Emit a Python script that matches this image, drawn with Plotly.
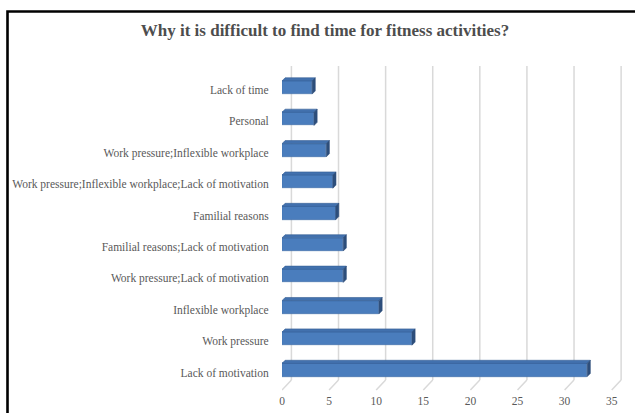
import plotly.graph_objects as go

categories = [
    "Lack of motivation",
    "Work pressure",
    "Inflexible workplace",
    "Work pressure;Lack of motivation",
    "Familial reasons;Lack of motivation",
    "Familial reasons",
    "Work pressure;Inflexible workplace;Lack of motivation",
    "Work pressure;Inflexible workplace",
    "Personal",
    "Lack of time",
]
values = [32.4, 13.8, 10.3, 6.5, 6.5, 5.7, 5.4, 4.7, 3.4, 3.2]
x_ticks = [0, 5, 10, 15, 20, 25, 30, 35]

FRONT = "#4A7DBD"
TOP = "#4271AE"
SIDE = "#2D4E7B"
GRID = "#D9D9D9"
TXT = "#595959"
FONT = "Liberation Serif"

pos = list(range(len(categories)))
half = 0.21      # half bar thickness (category units)
ddx = 0.33       # 3D depth in x units
ddy = 0.10       # 3D depth in category units

fig = go.Figure()

# front faces
fig.add_trace(go.Bar(
    x=values, y=pos, orientation="h", width=2 * half,
    marker=dict(color=FRONT, line=dict(color="#3C6AA6", width=0.6)),
    showlegend=False, hoverinfo="skip",
))

# top and side faces (derived from the values)
tx, ty, sx, sy = [], [], [], []
for p, v in zip(pos, values):
    tx += [0, v, v + ddx, ddx, 0, None]
    ty += [p + half, p + half, p + half + ddy, p + half + ddy, p + half, None]
    sx += [v, v, v + ddx, v + ddx, v, None]
    sy += [p - half, p + half, p + half + ddy, p - half + ddy, p - half, None]

fig.add_trace(go.Scatter(x=tx, y=ty, mode="lines", fill="toself", fillcolor=TOP,
                         line=dict(color="#355F96", width=0.6),
                         showlegend=False, hoverinfo="skip"))
fig.add_trace(go.Scatter(x=sx, y=sy, mode="lines", fill="toself", fillcolor=SIDE,
                         line=dict(color=SIDE, width=0.6),
                         showlegend=False, hoverinfo="skip"))

# back-wall gridlines with floor diagonals
L, R, T, B = 282, 11, 66, 23
plot_h = 413 - T - B
back_floor = 10 / plot_h
shapes = []
for t in x_ticks:
    shapes.append(dict(type="line", xref="x", yref="paper", x0=t + 1.0, x1=t + 1.0,
                       y0=back_floor, y1=1, line=dict(color=GRID, width=1.5), layer="below"))
    shapes.append(dict(type="line", xref="x", yref="paper", x0=t + 1.0, x1=t,
                       y0=back_floor, y1=0, line=dict(color=GRID, width=1.5), layer="below"))

# outer black frame
plot_w = 635 - L - R
shapes.append(dict(type="rect", xref="paper", yref="paper",
                   x0=(7.5 - L) / plot_w, x1=1.5,
                   y0=-0.3, y1=(413 - B - 11.5) / plot_h,
                   line=dict(color="black", width=2.6), fillcolor="rgba(0,0,0,0)"))

fig.update_layout(
    width=635, height=413,
    margin=dict(l=L, r=R, t=T, b=B, autoexpand=False),
    paper_bgcolor="white", plot_bgcolor="white",
    shapes=shapes,
    title=dict(text="<b>Why it is difficult to find time for fitness activities?</b>",
               x=325 / 635, xref="container", xanchor="center", y=1 - 30 / 413, yanchor="middle",
               font=dict(family=FONT, size=17, color="#4D4D4D")),
    font=dict(family=FONT, size=11.5, color=TXT),
    bargap=0,
)

fig.update_xaxes(range=[0, plot_w / 9.42], tickvals=x_ticks, ticktext=[str(t) for t in x_ticks],
                 showgrid=False, zeroline=False, showline=False, ticks="",
                 ticklabelstandoff=2, automargin=False,
                 tickfont=dict(family=FONT, size=11.5, color=TXT), fixedrange=True)
fig.update_yaxes(range=[-(390 - 370) / 31.4, 9 + (87.5 - 66) / 31.4],
                 tickvals=[p - 0.08 for p in pos], ticktext=categories,
                 showgrid=False, zeroline=False, showline=False, automargin=False,
                 ticks="outside", ticklen=10, tickcolor="rgba(0,0,0,0)",
                 tickfont=dict(family=FONT, size=11.5, color=TXT), fixedrange=True)

fig.write_html("out.html", config={"displayModeBar": False},
               post_script="document.body.style.margin='0';document.body.style.overflow='hidden';")
